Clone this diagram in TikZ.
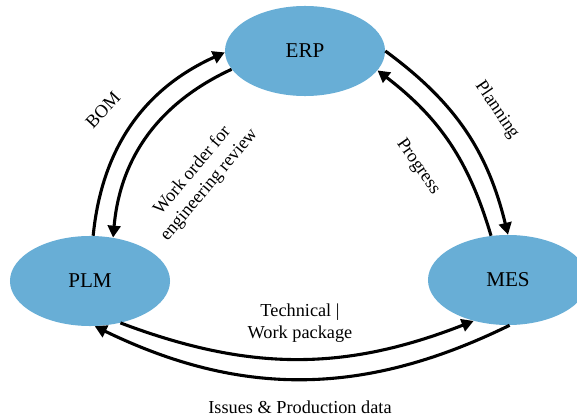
\documentclass[tikz,border=0pt]{standalone}
\usepackage{fontspec}
\setmainfont{Liberation Serif}
\usepackage{xcolor}
\usepackage{tikz}
\usetikzlibrary{shapes.geometric,arrows.meta}
\definecolor{sysblue}{RGB}{104,174,214}
\tikzset{
  sys/.style={ellipse, fill=sysblue, minimum width=4cm, minimum height=2.25cm,
              inner sep=0pt, font=\fontsize{15}{17}\selectfont},
  lbl/.style={align=center, font=\fontsize{13}{15.5}\selectfont, inner sep=1pt},
  arr/.style={-{Triangle[length=8.5pt,width=9pt]}, line width=2.2pt}
}
\begin{document}
\begin{tikzpicture}[x=0.025cm, y=0.025cm]
  \useasboundingbox (0,0) rectangle (577,416);
  \begin{scope}
  \clip (0,0) rectangle (577,416);
  \node[sys] (erp) at (305,365) {ERP};
  \node[sys] (plm) at (90,135) {PLM};
  \node[sys] (mes) at (508,136) {MES};
  \end{scope}
  % PLM <-> ERP
  \draw[arr] (plm.86) to[bend left=30] (erp.181);
  \draw[arr] (erp.194) to[bend right=30] (plm.62);
  % ERP <-> MES
  \draw[arr] (erp.0) to[bend left=20] (mes.90);
  \draw[arr] (mes.111) to[bend right=18] (erp.-15);
  % PLM <-> MES
  \draw[arr] (plm.-54) to[bend right=21] (mes.230);
  \draw[arr] (mes.272) to[bend left=26] (plm.276);
  % labels
  \node[lbl, rotate=47] (bom) at (103,306) {BOM};
  \node[lbl, rotate=50] (wo) at (201,238) {Work order for\\engineering review};
  \node[lbl, rotate=-56] (plan) at (497,306) {Planning};
  \node[lbl, rotate=-55] (prog) at (418,249) {Progress};
  \node[lbl] (tech) at (300,93) {Technical \textbar\\Work package};
  \node[lbl] (iss) at (300,9) {Issues \& Production data};
\end{tikzpicture}
\end{document}
